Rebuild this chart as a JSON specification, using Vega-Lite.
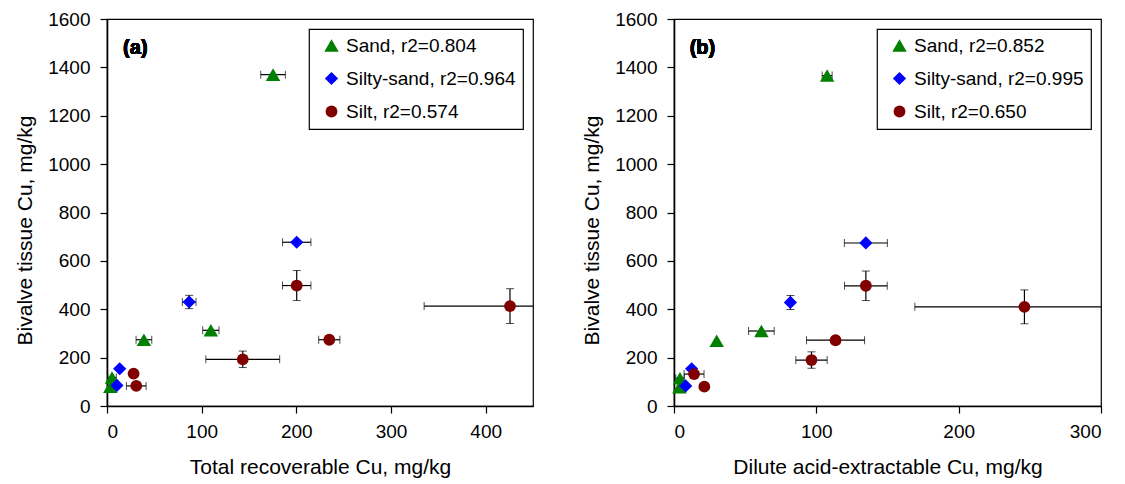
{
  "$schema": "https://vega.github.io/schema/vega-lite/v6.json",
  "padding": {"top": 9, "left": 14, "right": 5, "bottom": 3},
  "background": "white",
  "config": {
    "font": "Liberation Sans",
    "view": {"stroke": "black", "strokeWidth": 1.2},
    "axis": {
      "grid": false,
      "domainColor": "black",
      "domainWidth": 1.6,
      "tickColor": "black",
      "tickSize": 7,
      "tickWidth": 1.2,
      "labelFontSize": 19,
      "labelColor": "black",
      "titleFontSize": 21,
      "titleFontWeight": "normal",
      "titleColor": "black",
      "labelFont": "Liberation Sans",
      "titleFont": "Liberation Sans",
      "format": "d"
    },
    "axisX": {"labelPadding": 9, "titlePadding": 15},
    "axisY": {"labelPadding": 10, "titlePadding": 12, "titleY": 211},
    "legend": {
      "orient": "top-right",
      "offset": 10,
      "strokeColor": "black",
      "strokeWidth": 1.2,
      "fillColor": "white",
      "padding": 7,
      "labelFontSize": 19,
      "labelFont": "Liberation Sans",
      "labelColor": "black",
      "labelLimit": 400,
      "symbolOffset": 6,
      "labelOffset": 5,
      "rowPadding": 13,
      "title": null
    }
  },
  "datasets": {
    "pts": [
      {"panel": "a", "soil": "Sand", "x": 175.4, "xerr": 13, "y": 1370, "yerr": 0},
      {"panel": "a", "soil": "Sand", "x": 109.7, "xerr": 8.6, "y": 313, "yerr": 0},
      {"panel": "a", "soil": "Sand", "x": 39, "xerr": 8.3, "y": 274, "yerr": 0},
      {"panel": "a", "soil": "Sand", "x": 5.3, "xerr": 4.5, "y": 118, "yerr": 0},
      {"panel": "a", "soil": "Sand", "x": 3.5, "xerr": 0, "y": 80, "yerr": 0},
      {"panel": "a", "soil": "Silty-sand", "x": 200.4, "xerr": 15, "y": 677, "yerr": 0},
      {"panel": "a", "soil": "Silty-sand", "x": 86.8, "xerr": 7.2, "y": 430, "yerr": 27.5},
      {"panel": "a", "soil": "Silty-sand", "x": 13.4, "xerr": 0, "y": 154, "yerr": 0},
      {"panel": "a", "soil": "Silty-sand", "x": 10.5, "xerr": 0, "y": 85, "yerr": 0},
      {"panel": "a", "soil": "Silt", "x": 200.4, "xerr": 15, "y": 498, "yerr": 62},
      {"panel": "a", "soil": "Silt", "x": 425.7, "xerr": 90.7, "y": 413, "yerr": 72},
      {"panel": "a", "soil": "Silt", "x": 234.8, "xerr": 11.2, "y": 274, "yerr": 0},
      {"panel": "a", "soil": "Silt", "x": 143.4, "xerr": 39, "y": 193, "yerr": 34},
      {"panel": "a", "soil": "Silt", "x": 28.1, "xerr": 0, "y": 134, "yerr": 0},
      {"panel": "a", "soil": "Silt", "x": 30.9, "xerr": 10.4, "y": 83, "yerr": 0},
      {"panel": "b", "soil": "Sand", "x": 107.6, "xerr": 3.5, "y": 1366, "yerr": 0},
      {"panel": "b", "soil": "Sand", "x": 61.4, "xerr": 9, "y": 310, "yerr": 0},
      {"panel": "b", "soil": "Sand", "x": 30, "xerr": 0, "y": 270, "yerr": 0},
      {"panel": "b", "soil": "Sand", "x": 4.2, "xerr": 3, "y": 115, "yerr": 0},
      {"panel": "b", "soil": "Sand", "x": 3.8, "xerr": 0, "y": 78, "yerr": 0},
      {"panel": "b", "soil": "Silty-sand", "x": 134.8, "xerr": 15.1, "y": 674, "yerr": 0},
      {"panel": "b", "soil": "Silty-sand", "x": 81.8, "xerr": 0, "y": 428, "yerr": 29},
      {"panel": "b", "soil": "Silty-sand", "x": 12.4, "xerr": 0, "y": 154, "yerr": 0},
      {"panel": "b", "soil": "Silty-sand", "x": 8.2, "xerr": 0, "y": 83, "yerr": 0},
      {"panel": "b", "soil": "Silt", "x": 134.8, "xerr": 15, "y": 497, "yerr": 61},
      {"panel": "b", "soil": "Silt", "x": 246.2, "xerr": 77, "y": 410, "yerr": 70},
      {"panel": "b", "soil": "Silt", "x": 113.5, "xerr": 20.4, "y": 272, "yerr": 0},
      {"panel": "b", "soil": "Silt", "x": 96.6, "xerr": 11, "y": 190, "yerr": 34},
      {"panel": "b", "soil": "Silt", "x": 14.1, "xerr": 7, "y": 132, "yerr": 0},
      {"panel": "b", "soil": "Silt", "x": 21.3, "xerr": 0, "y": 80, "yerr": 0}
    ]
  },
  "spacing": 47,
  "hconcat": [
    {
      "width": 426,
      "height": 387,
      "data": {"name": "pts"},
      "transform": [{"filter": "datum.panel == 'a'"}],
      "layer": [
        {
          "transform": [{"filter": "datum.xerr > 0"}],
          "mark": {"type": "errorbar", "ticks": {"size": 8, "color": "black"}, "rule": {"color": "black", "strokeWidth": 1.2}, "clip": true},
          "encoding": {
            "x": {"field": "x", "type": "quantitative", "title": "Total recoverable Cu, mg/kg"},
            "xError": {"field": "xerr"},
            "y": {"field": "y", "type": "quantitative", "title": "Bivalve tissue Cu, mg/kg"}
          }
        },
        {
          "transform": [{"filter": "datum.yerr > 0"}],
          "mark": {"type": "errorbar", "ticks": {"size": 8, "color": "black"}, "rule": {"color": "black", "strokeWidth": 1.2}, "clip": true},
          "encoding": {
            "x": {"field": "x", "type": "quantitative", "title": "Total recoverable Cu, mg/kg"},
            "y": {"field": "y", "type": "quantitative", "title": "Bivalve tissue Cu, mg/kg"},
            "yError": {"field": "yerr"}
          }
        },
        {
          "mark": {"type": "point", "filled": true, "opacity": 1},
          "encoding": {
            "x": {"field": "x", "type": "quantitative", "scale": {"domain": [0, 450], "nice": false}, "axis": {"values": [0, 100, 200, 300, 400]}, "title": "Total recoverable Cu, mg/kg"},
            "y": {"field": "y", "type": "quantitative", "scale": {"domain": [0, 1600], "nice": false}, "axis": {"values": [0, 200, 400, 600, 800, 1000, 1200, 1400, 1600]}, "title": "Bivalve tissue Cu, mg/kg"},
            "color": {"field": "soil", "type": "nominal", "scale": {"domain": ["Sand", "Silty-sand", "Silt"], "range": ["#008000", "#0000FF", "#800000"]}, "legend": {"labelExpr": "datum.label == 'Sand' ? 'Sand, r2=0.804' : datum.label == 'Silty-sand' ? 'Silty-sand, r2=0.964' : 'Silt, r2=0.574'"}},
            "shape": {"field": "soil", "type": "nominal", "scale": {"domain": ["Sand", "Silty-sand", "Silt"], "range": ["triangle-up", "diamond", "circle"]}, "legend": {"labelExpr": "datum.label == 'Sand' ? 'Sand, r2=0.804' : datum.label == 'Silty-sand' ? 'Silty-sand, r2=0.964' : 'Silt, r2=0.574'"}},
            "size": {"field": "soil", "type": "nominal", "scale": {"domain": ["Sand", "Silty-sand", "Silt"], "range": [210, 140, 160]}, "legend": {"labelExpr": "datum.label == 'Sand' ? 'Sand, r2=0.804' : datum.label == 'Silty-sand' ? 'Silty-sand, r2=0.964' : 'Silt, r2=0.574'"}}
          }
        },
        {
          "mark": {"type": "text", "text": "(a)", "fontWeight": "bold", "fontSize": 20, "align": "left", "baseline": "middle", "font": "Liberation Sans"},
          "encoding": {"x": {"datum": 17}, "y": {"datum": 1482}}
        }
      ]
    },
    {
      "width": 427,
      "height": 387,
      "data": {"name": "pts"},
      "transform": [{"filter": "datum.panel == 'b'"}],
      "layer": [
        {
          "transform": [{"filter": "datum.xerr > 0"}],
          "mark": {"type": "errorbar", "ticks": {"size": 8, "color": "black"}, "rule": {"color": "black", "strokeWidth": 1.2}, "clip": true},
          "encoding": {
            "x": {"field": "x", "type": "quantitative", "title": "Dilute acid-extractable Cu, mg/kg"},
            "xError": {"field": "xerr"},
            "y": {"field": "y", "type": "quantitative", "title": "Bivalve tissue Cu, mg/kg"}
          }
        },
        {
          "transform": [{"filter": "datum.yerr > 0"}],
          "mark": {"type": "errorbar", "ticks": {"size": 8, "color": "black"}, "rule": {"color": "black", "strokeWidth": 1.2}, "clip": true},
          "encoding": {
            "x": {"field": "x", "type": "quantitative", "title": "Dilute acid-extractable Cu, mg/kg"},
            "y": {"field": "y", "type": "quantitative", "title": "Bivalve tissue Cu, mg/kg"},
            "yError": {"field": "yerr"}
          }
        },
        {
          "mark": {"type": "point", "filled": true, "opacity": 1},
          "encoding": {
            "x": {"field": "x", "type": "quantitative", "scale": {"domain": [0, 300], "nice": false}, "axis": {"values": [0, 100, 200, 300]}, "title": "Dilute acid-extractable Cu, mg/kg"},
            "y": {"field": "y", "type": "quantitative", "scale": {"domain": [0, 1600], "nice": false}, "axis": {"values": [0, 200, 400, 600, 800, 1000, 1200, 1400, 1600]}, "title": "Bivalve tissue Cu, mg/kg"},
            "color": {"field": "soil", "type": "nominal", "scale": {"domain": ["Sand", "Silty-sand", "Silt"], "range": ["#008000", "#0000FF", "#800000"]}, "legend": {"labelExpr": "datum.label == 'Sand' ? 'Sand, r2=0.852' : datum.label == 'Silty-sand' ? 'Silty-sand, r2=0.995' : 'Silt, r2=0.650'"}},
            "shape": {"field": "soil", "type": "nominal", "scale": {"domain": ["Sand", "Silty-sand", "Silt"], "range": ["triangle-up", "diamond", "circle"]}, "legend": {"labelExpr": "datum.label == 'Sand' ? 'Sand, r2=0.852' : datum.label == 'Silty-sand' ? 'Silty-sand, r2=0.995' : 'Silt, r2=0.650'"}},
            "size": {"field": "soil", "type": "nominal", "scale": {"domain": ["Sand", "Silty-sand", "Silt"], "range": [210, 140, 160]}, "legend": {"labelExpr": "datum.label == 'Sand' ? 'Sand, r2=0.852' : datum.label == 'Silty-sand' ? 'Silty-sand, r2=0.995' : 'Silt, r2=0.650'"}}
          }
        },
        {
          "mark": {"type": "text", "text": "(b)", "fontWeight": "bold", "fontSize": 20, "align": "left", "baseline": "middle", "font": "Liberation Sans"},
          "encoding": {"x": {"datum": 11}, "y": {"datum": 1482}}
        }
      ]
    }
  ],
  "resolve": {"scale": {"color": "independent", "shape": "independent", "size": "independent", "x": "independent", "y": "independent"}, "legend": {"color": "independent", "shape": "independent", "size": "independent"}}
}
